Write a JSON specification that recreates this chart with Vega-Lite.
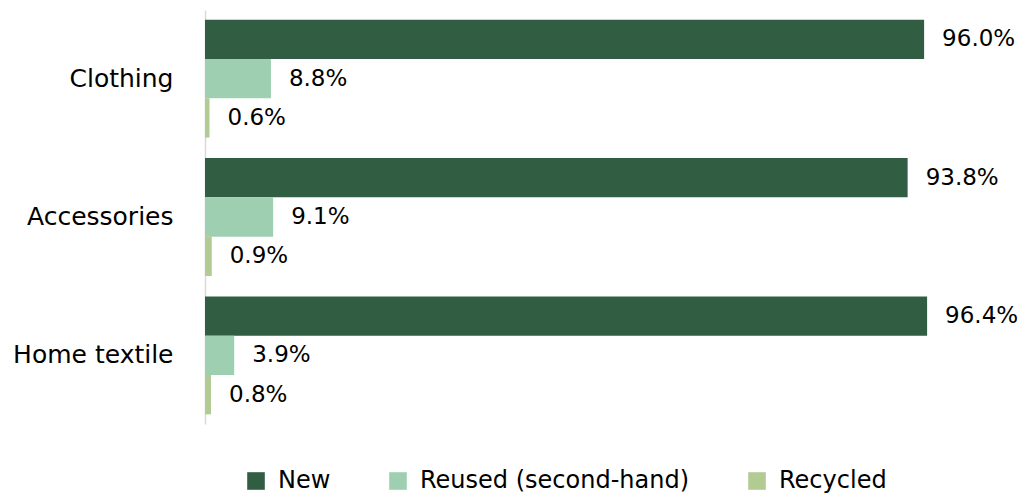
{
  "$schema": "https://vega.github.io/schema/vega-lite/v6.json",
  "width": 809,
  "height": 414,
  "autosize": {"type": "none"},
  "padding": {"left": 205, "top": 10, "right": 7, "bottom": 72},
  "config": {"font": "DejaVu Sans", "view": {"stroke": null}},
  "data": {
    "values": [
      {"category": "Clothing", "type": "New", "value": 0.960},
      {"category": "Clothing", "type": "Reused (second-hand)", "value": 0.088},
      {"category": "Clothing", "type": "Recycled", "value": 0.006},
      {"category": "Accessories", "type": "New", "value": 0.938},
      {"category": "Accessories", "type": "Reused (second-hand)", "value": 0.091},
      {"category": "Accessories", "type": "Recycled", "value": 0.009},
      {"category": "Home textile", "type": "New", "value": 0.964},
      {"category": "Home textile", "type": "Reused (second-hand)", "value": 0.039},
      {"category": "Home textile", "type": "Recycled", "value": 0.008}
    ]
  },
  "encoding": {
    "y": {
      "field": "category",
      "type": "nominal",
      "sort": ["Clothing", "Accessories", "Home textile"],
      "scale": {"paddingInner": 0.148, "paddingOuter": 0.07},
      "axis": {
        "title": null,
        "ticks": false,
        "domainColor": "#d9d9d9",
        "domainWidth": 1.5,
        "labelFontSize": 25,
        "labelColor": "#000000",
        "labelPadding": 32,
        "labelLimit": 300
      }
    },
    "yOffset": {
      "field": "type",
      "type": "nominal",
      "sort": ["New", "Reused (second-hand)", "Recycled"],
      "scale": {"paddingInner": 0, "paddingOuter": 0}
    },
    "x": {
      "field": "value",
      "type": "quantitative",
      "scale": {"domain": [0, 1.08]},
      "axis": null
    }
  },
  "layer": [
    {
      "mark": {"type": "bar"},
      "encoding": {
        "color": {
          "field": "type",
          "type": "nominal",
          "sort": ["New", "Reused (second-hand)", "Recycled"],
          "scale": {
            "domain": ["New", "Reused (second-hand)", "Recycled"],
            "range": ["#315E42", "#9FCFB1", "#B2CB93"]
          },
          "legend": {
            "title": null,
            "orient": "none",
            "direction": "horizontal",
            "legendX": 39,
            "legendY": 459,
            "padding": 0,
            "symbolType": "square",
            "symbolSize": 310,
            "symbolStrokeWidth": 0,
            "symbolOpacity": 1,
            "labelFontSize": 24,
            "labelColor": "#000000",
            "labelOffset": 10,
            "columnPadding": 55,
            "labelLimit": 400
          }
        }
      }
    },
    {
      "mark": {"type": "text", "align": "left", "baseline": "middle", "dx": 18, "fontSize": 23, "color": "#000000"},
      "encoding": {"text": {"field": "value", "format": ".1%"}}
    }
  ]
}
